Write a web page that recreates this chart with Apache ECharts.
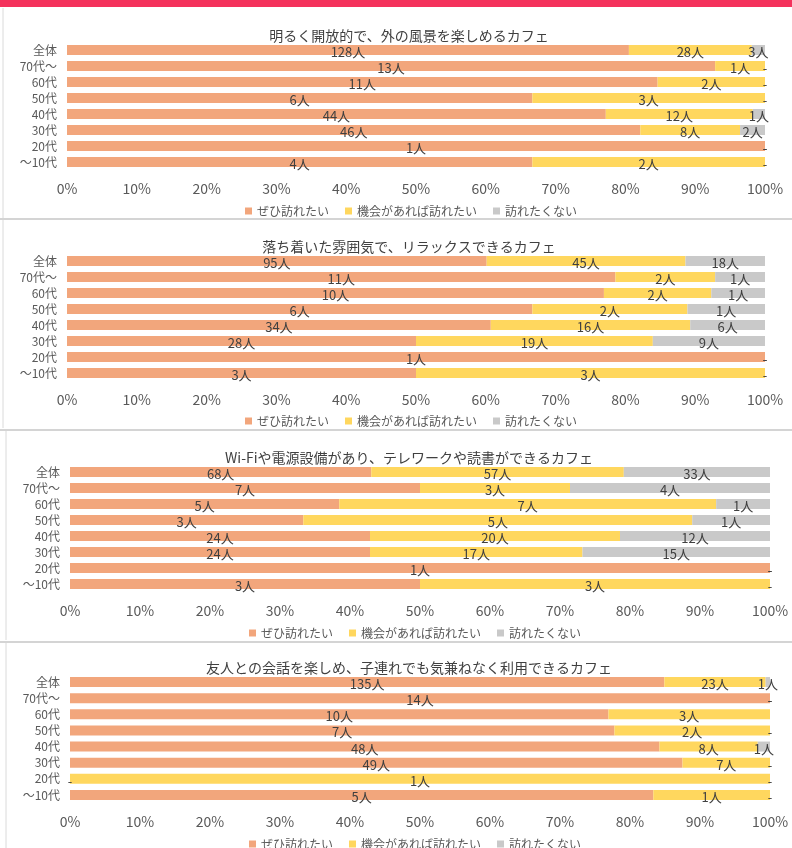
<!DOCTYPE html>
<html>
<head>
<meta charset="utf-8">
<script src="https://cdn.jsdelivr.net/npm/echarts@6/dist/echarts.min.js"></script>
<style>
  html, body { margin: 0; padding: 0; background: #fff; }
  #chart { width: 792px; height: 848px; }
</style>
</head>
<body>
<div id="chart"></div>
<script>
// rows, top to bottom
const categories = ["全体", "70代～", "60代", "50代", "40代", "30代", "20代", "～10代"];
const legendNames = ["ぜひ訪れたい", "機会があれば訪れたい", "訪れたくない"];
const titles = [
  "明るく開放的で、外の風景を楽しめるカフェ",
  "落ち着いた雰囲気で、リラックスできるカフェ",
  "Wi-Fiや電源設備があり、テレワークや読書ができるカフェ",
  "友人との会話を楽しめ、子連れでも気兼ねなく利用できるカフェ"
];

// counts (人)
const openWant = [128, 13, 11, 6, 44, 46, 1, 4];
const openChance = [28, 1, 2, 3, 12, 8, 0, 2];
const openNo = [3, 0, 0, 0, 1, 2, 0, 0];

const relaxWant = [95, 11, 10, 6, 34, 28, 1, 3];
const relaxChance = [45, 2, 2, 2, 16, 19, 0, 3];
const relaxNo = [18, 1, 1, 1, 6, 9, 0, 0];

const workWant = [68, 7, 5, 3, 24, 24, 1, 3];
const workChance = [57, 3, 7, 5, 20, 17, 0, 3];
const workNo = [33, 4, 1, 1, 12, 15, 0, 0];

const talkWant = [135, 14, 10, 7, 48, 49, 0, 5];
const talkChance = [23, 0, 3, 2, 8, 7, 1, 1];
const talkNo = [1, 0, 0, 0, 1, 0, 0, 0];

const panels = [
  [openWant, openChance, openNo],
  [relaxWant, relaxChance, relaxNo],
  [workWant, workChance, workNo],
  [talkWant, talkChance, talkNo]
];

const colors = ["#F2A67C", "#FFD75E", "#C9C9C9"];
const font = "'Noto Sans CJK JP', 'Noto Sans', sans-serif";

// panel layout
const layout = [
  { left: 67, top: 42, width: 698, height: 128, titleTop: 24, legendTop: 200, legendLeft: 240 },
  { left: 67, top: 253, width: 698, height: 128, titleTop: 235, legendTop: 410, legendLeft: 240 },
  { left: 70, top: 464, width: 700, height: 128, titleTop: 446, legendTop: 622, legendLeft: 244 },
  { left: 70, top: 674, width: 700, height: 129, titleTop: 656, legendTop: 833, legendLeft: 244 }
];

const chart = echarts.init(document.getElementById("chart"));

const grid = [], xAxis = [], yAxis = [], series = [], title = [], legend = [];

panels.forEach((sets, p) => {
  const L = layout[p];
  grid.push({ left: L.left, top: L.top, width: L.width, height: L.height });
  xAxis.push({
    gridIndex: p, type: "value", min: 0, max: 100, interval: 10,
    axisLine: { show: false }, axisTick: { show: false }, splitLine: { show: false },
    axisLabel: { formatter: "{value}%", color: "#595959", fontSize: 14, fontFamily: font, margin: 12 }
  });
  yAxis.push({
    gridIndex: p, type: "category", data: categories, inverse: true,
    axisLine: { show: false }, axisTick: { show: false },
    axisLabel: { color: "#595959", fontSize: 12, fontFamily: font, margin: 10 }
  });
  title.push({
    text: titles[p], left: 404, top: L.titleTop, textAlign: "center",
    textStyle: { color: "#404040", fontSize: 14, fontWeight: "normal", fontFamily: font }
  });
  legend.push({
    data: legendNames, left: L.legendLeft, top: L.legendTop,
    itemWidth: 7, itemHeight: 7, itemGap: 16, icon: "rect",
    textStyle: { color: "#595959", fontSize: 12, fontFamily: font }
  });
  const totals = categories.map((c, i) => sets[0][i] + sets[1][i] + sets[2][i]);
  sets.forEach((counts, s) => {
    series.push({
      name: legendNames[s], type: "bar", stack: "p" + p,
      xAxisIndex: p, yAxisIndex: p, barWidth: 10,
      itemStyle: { color: colors[s] },
      data: counts.map((v, i) => (v / totals[i]) * 100),
      label: {
        show: true, position: "inside", color: "#404040", fontSize: 13, fontFamily: font,
        offset: [0, 2],
        formatter: (prm) => (counts[prm.dataIndex] === 0 ? "-" : counts[prm.dataIndex] + "人")
      },
      emphasis: { disabled: true }
    });
  });
});

chart.setOption({
  animation: false,
  backgroundColor: "#fff",
  title, legend, grid, xAxis, yAxis, series,
  graphic: [
    { type: "rect", shape: { x: 0, y: 0, width: 792, height: 7 }, style: { fill: "#F4325C" } },
    { type: "line", shape: { x1: 3, y1: 8, x2: 3, y2: 218 }, style: { stroke: "#DADADA", lineWidth: 1 } },
    { type: "line", shape: { x1: 0, y1: 219, x2: 792, y2: 219 }, style: { stroke: "#D4D4D4", lineWidth: 2 } },
    { type: "line", shape: { x1: 3, y1: 220, x2: 3, y2: 428 }, style: { stroke: "#DADADA", lineWidth: 1 } },
    { type: "line", shape: { x1: 0, y1: 430, x2: 792, y2: 430 }, style: { stroke: "#D4D4D4", lineWidth: 2 } },
    { type: "line", shape: { x1: 6, y1: 431, x2: 6, y2: 640 }, style: { stroke: "#DADADA", lineWidth: 1 } },
    { type: "line", shape: { x1: 0, y1: 642, x2: 792, y2: 642 }, style: { stroke: "#D4D4D4", lineWidth: 2 } },
    { type: "line", shape: { x1: 6, y1: 643, x2: 6, y2: 848 }, style: { stroke: "#DADADA", lineWidth: 1 } }
  ]
});
</script>
</body>
</html>
